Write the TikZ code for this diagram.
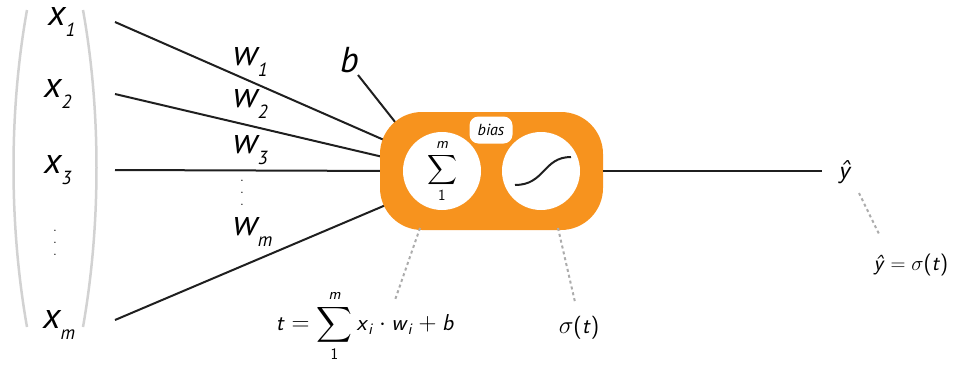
\documentclass[tikz,border=0pt]{standalone}
\usepackage{amsmath}
\usepackage{fontspec}
\newfontfamily\labfont{PT Sans}
\definecolor{neuronorange}{HTML}{F7931E}
\newcommand\fsit[1]{\textsf{\textit{#1}}}
\newcommand\sublab[2]{#1\raisebox{-11pt}{\fontsize{19}{19}\selectfont #2}}
\begin{document}
\begin{tikzpicture}[x=1pt,y=-1pt,
  conn/.style={draw=black!88, line width=2pt},
  hint/.style={draw=gray!65, line width=2pt, dash pattern=on 3pt off 3pt},
  brk/.style={draw=gray!35, line width=2.5pt},
  lab/.style={font=\labfont\itshape\fontsize{36}{36}\selectfont, inner sep=0pt, anchor=base west},
  dotcol/.style={font=\fontsize{14}{12}\selectfont, align=center, inner sep=0pt},
  formula/.style={font=\fontsize{23}{27}\selectfont, inner sep=0pt},
  neuron/.style={fill=neuronorange, minimum width=223pt, minimum height=118pt, rounded corners=42pt, inner sep=0pt},
  unit/.style={circle, fill=white, minimum size=78pt, inner sep=0pt}]
\useasboundingbox (0,0) rectangle (962,365);

% brackets
\draw[brk] (27,10) .. controls (9,110) and (9,225) .. (27,327);
\draw[brk] (83,10) .. controls (101,110) and (101,225) .. (83,327);

% input labels
\node[lab] (x1) at (48,25) {\sublab{x}{1}};
\node[lab] (x2) at (44,97) {\sublab{x}{2}};
\node[lab] (x3) at (44,173) {\sublab{x}{3}};
\node[dotcol] (xdots) at (55,243) {.\\.\\.};
\node[lab] (xm) at (43,328) {\sublab{x}{m}};

% weight labels
\node[lab] (w1) at (233,65) {\sublab{w}{1}};
\node[lab] (w2) at (233,107) {\sublab{w}{2}};
\node[lab] (w3) at (233,153) {\sublab{w}{3}};
\node[dotcol] (wdots) at (242,193) {.\\.\\.};
\node[lab] (wm) at (233,235) {\sublab{w}{m}};
\node[lab] (b) at (340,72) {b};

% connector end points
\coordinate (in1) at (115,22);
\coordinate (in2) at (115,94);
\coordinate (in3) at (115,170);
\coordinate (in4) at (115,320);
\coordinate (e1) at (400,147);
\coordinate (e2) at (400,161);
\coordinate (e3) at (400,171);
\coordinate (e4) at (400,199);
\coordinate (bs) at (358,75);
\coordinate (be) at (403,132);

\draw[conn] (in1) -- (e1);
\draw[conn] (in2) -- (e2);
\draw[conn] (in3) -- (e3);
\draw[conn] (in4) -- (e4);
\draw[conn] (bs) -- (be);

% neuron
\node[neuron] (neuron) at (491.5,171) {};
\node[unit] (sum) at (442,171) {};
\node[font=\fontsize{22}{26}\selectfont, inner sep=0pt] (sumsym) at (442,171) {$\displaystyle\sum_{\textsf{1}}^{\fsit{m}}$};
\node[unit] (act) at (541,171) {};
\coordinate (sg1) at (515,185);
\coordinate (sg2) at (571,157);
\draw[line width=2pt, black!88] (sg1) .. controls (545,185) and (543,157) .. (sg2);
\node[fill=white, rounded corners=9pt, minimum width=43pt, minimum height=27pt, inner sep=0pt] (bias) at (491,130) {\labfont\itshape\fontsize{16}{16}\selectfont bias};

% output
\coordinate (yout) at (822,171);
\draw[conn] (neuron.east) -- (yout);
\node[formula, font=\fontsize{26}{30}\selectfont] (yhat) at (845,172) {\fsit{ŷ}};

% formulas
\node[formula] (tform) at (365,326) {$\fsit{t} = \displaystyle\sum_{\textsf{1}}^{\fsit{m}} \fsit{x}_{\fsit{i}} \cdot \fsit{w}_{\fsit{i}} + \fsit{b}$};
\node[formula] (sform) at (579,328) {$\sigma\textsf{(}\fsit{t}\textsf{)}$};
\node[formula, font=\fontsize{22}{26}\selectfont] (yform) at (911,265) {$\fsit{ŷ} = \sigma\textsf{(}\fsit{t}\textsf{)}$};

% dashed hints
\coordinate (h1a) at (420,228);
\coordinate (h1b) at (395,300);
\coordinate (h2a) at (558,228);
\coordinate (h2b) at (575,302);
\coordinate (h3a) at (859,193);
\coordinate (h3b) at (879,234);
\draw[hint] (h1a) -- (h1b);
\draw[hint] (h2a) -- (h2b);
\draw[hint] (h3a) -- (h3b);
\end{tikzpicture}
\end{document}
